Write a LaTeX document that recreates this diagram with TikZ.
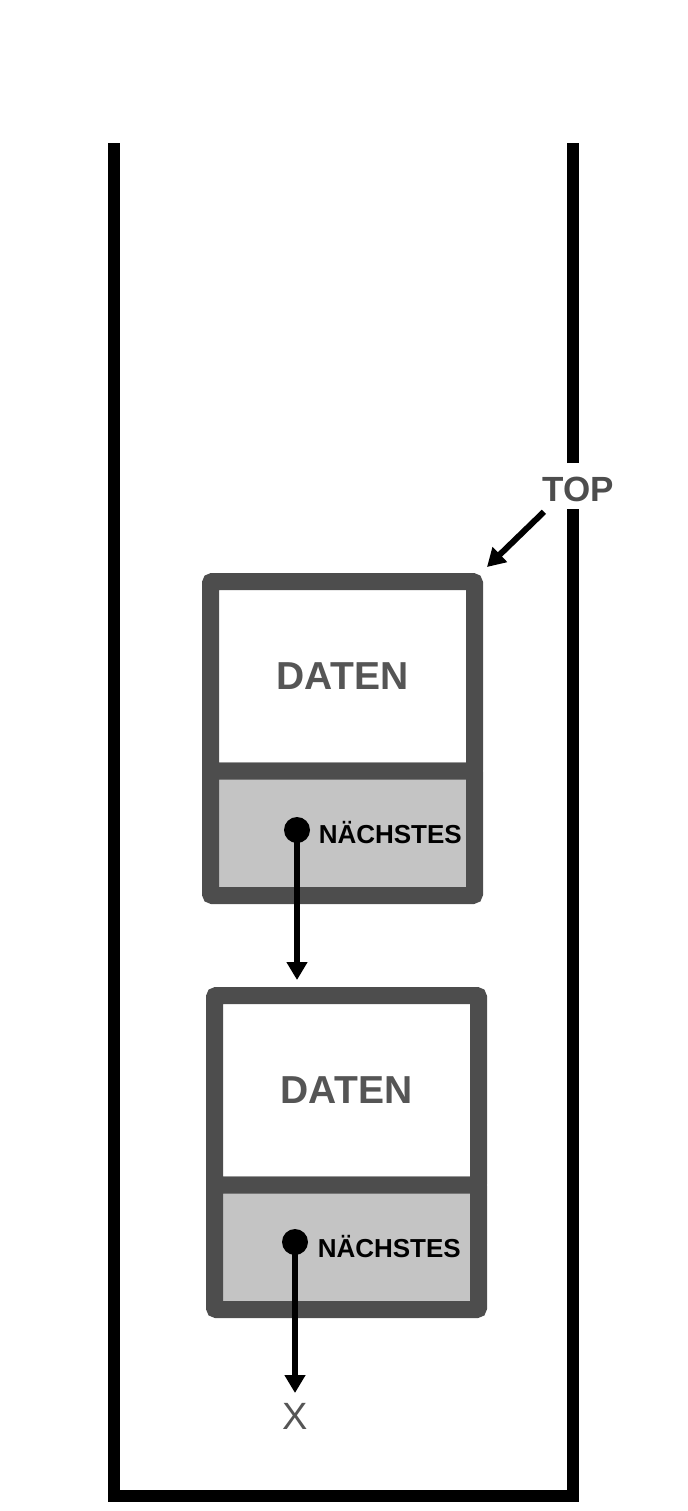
\documentclass[tikz,border=0pt]{standalone}
\usepackage{fontspec}
\setmainfont{Liberation Sans}
\usetikzlibrary{arrows.meta,positioning}
\definecolor{rahmen}{HTML}{4D4D4D}
\definecolor{feld}{HTML}{C4C4C4}
\definecolor{schrift}{HTML}{555555}
\begin{document}
\begin{tikzpicture}[x=0.5pt,y=-0.5pt,
  wand/.style={line width=6pt,draw=black},
  daten/.style={draw=rahmen,fill=white,line width=8.5pt,rounded corners=1pt,minimum width=132pt,minimum height=94.75pt,inner sep=0pt,font=\fontsize{19.5}{23}\selectfont\bfseries,text=schrift},
  naechstes/.style={draw=rahmen,fill=feld,line width=8.5pt,rounded corners=1pt,minimum width=132pt,minimum height=62.25pt},
  punkt/.style={circle,fill=black,inner sep=0pt,minimum width=13pt,minimum height=12pt},
  zeiger/.style={font=\fontsize{13}{15}\selectfont\bfseries,inner sep=0pt},
  pfeil/.style={line width=3pt,-{Triangle[width=10pt,length=9pt]}}]
\useasboundingbox (0,0) rectangle (688,1511);

% Stapel
\draw[wand] (573,463) -- (573,143);
\draw[wand] (113.5,143) -- (113.5,1496) -- (573,1496) -- (573,509);

\node[font=\fontsize{17.5}{20}\selectfont\bfseries,text=rahmen,inner sep=0pt] (top) at (578,489) {TOP};

% Element 1
\node[daten] (daten1) at (342.5,676.25) {DATEN};
\node[naechstes] (next1) at (342.5,833.25) {};
\node[punkt] (p1) at (297,830) {};
\node[zeiger,right=4pt of p1,yshift=-1.5pt] (l1) {NÄCHSTES};

% Element 2
\node[daten] (daten2) at (346.5,1090.25) {DATEN};
\node[naechstes] (next2) at (346.5,1247.25) {};
\node[punkt] (p2) at (295,1242) {};
\node[zeiger,right=4.5pt of p2,yshift=-2.5pt] (l2) {NÄCHSTES};

\coordinate (t1) at (297,980);
\coordinate (t2) at (295,1393);
\node[font=\fontsize{19}{22}\selectfont,text=schrift,inner sep=0pt,below=5pt of t2] (nil) {X};

\draw[pfeil] ([shift={(2,10)}]top.south west) -- ([shift={(4,-6)}]daten1.north east);
\draw[pfeil] (p1.center) -- (t1);
\draw[pfeil] (p2.center) -- (t2);
\end{tikzpicture}
\end{document}
